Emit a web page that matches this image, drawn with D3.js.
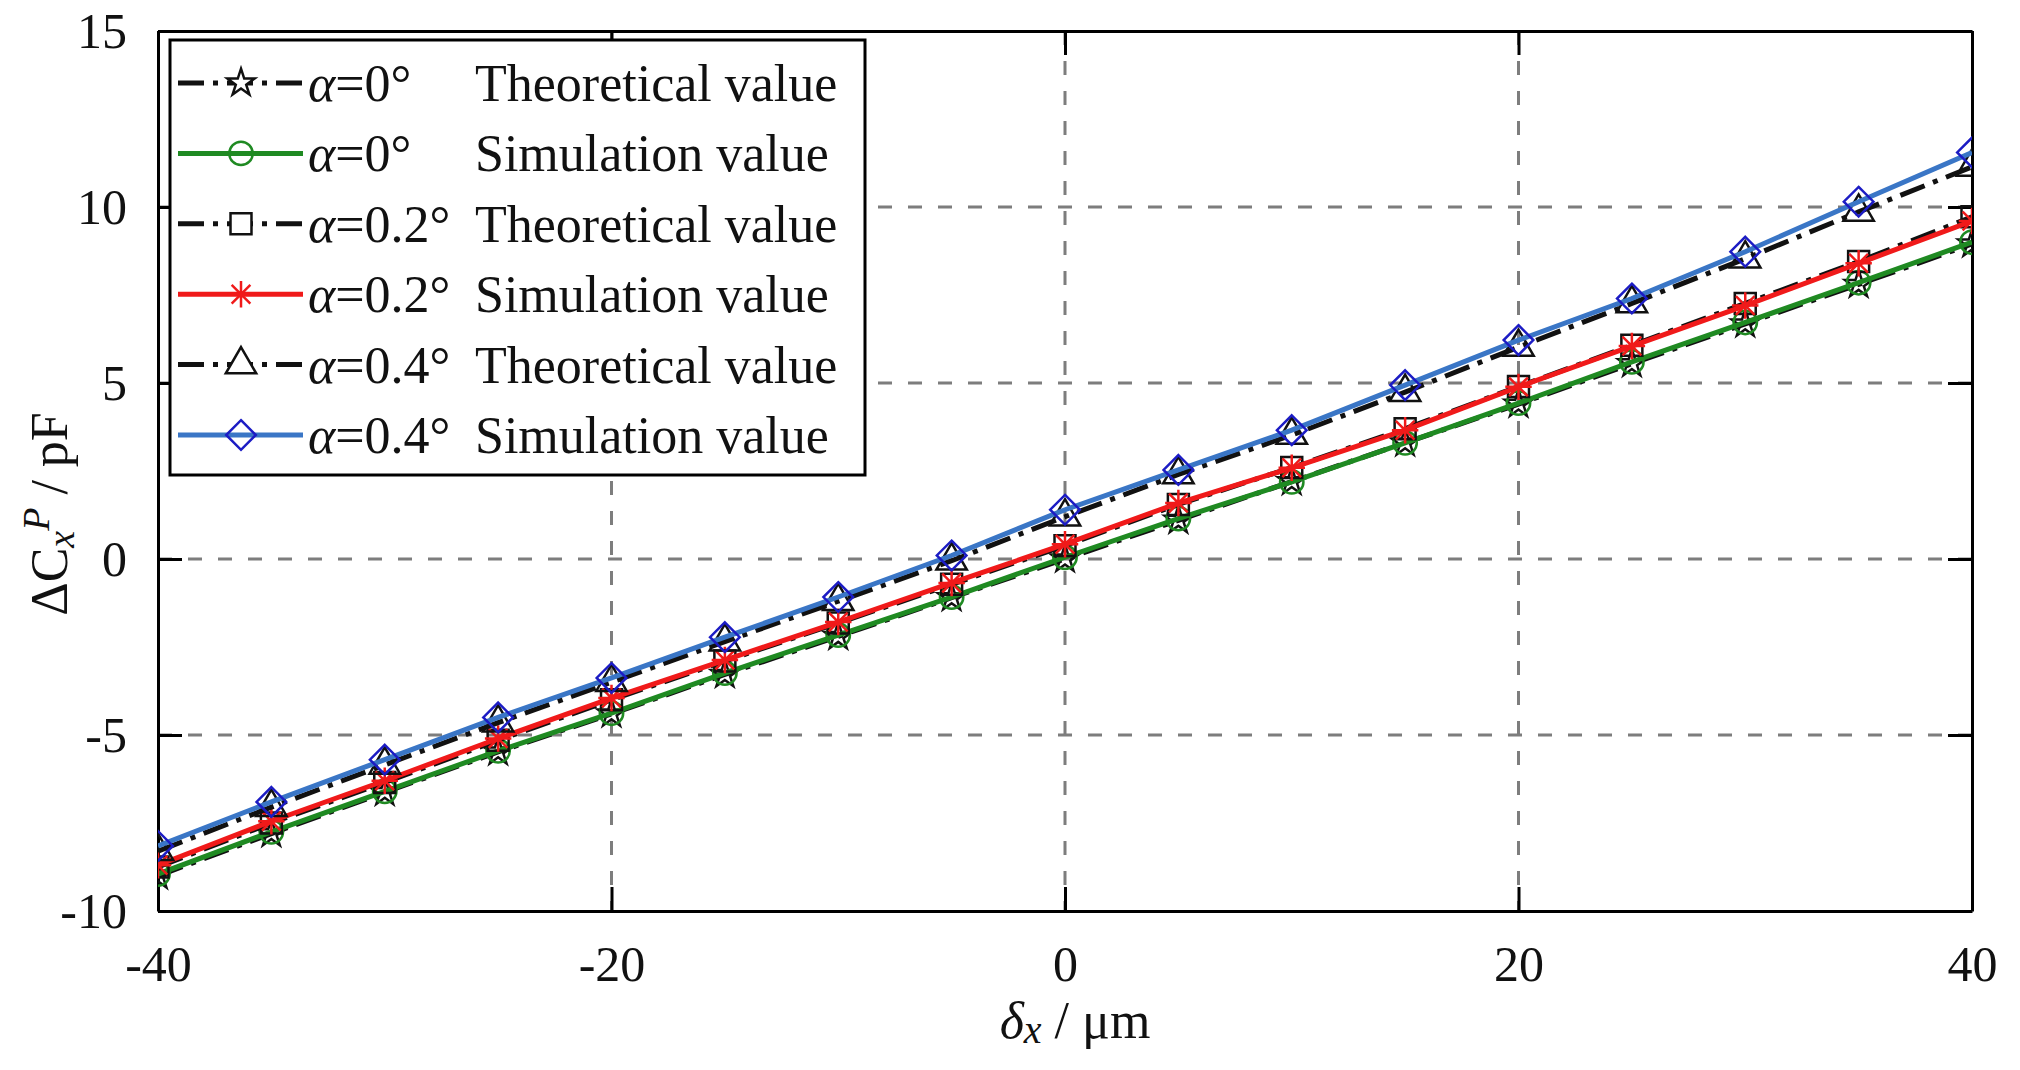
<!DOCTYPE html>
<html lang="en">
<head>
  <meta charset="UTF-8">
  <title>capacitance change vs displacement</title>
  <style>
    body {
      margin: 0;
      background-color: #fff;
    }

    svg text {
      font-family: 'Liberation Serif', 'Times New Roman', serif;
      fill: #111;
    }

    .grid line {
      stroke: #7d7d7d;
      stroke-width: 3;
      stroke-dasharray: 14,16;
    }

    .axis path,
    .axis line {
      stroke: #000;
      stroke-width: 3;
    }

    .axis text {
      font-size: 50px;
    }

    .legend-box {
      fill: #fff;
      stroke: #000;
      stroke-width: 3;
    }

    .legend-label {
      font-size: 52px;
    }
  </style>
</head>
<body>
  <script src="https://d3js.org/d3.v7.min.js"></script>
  <script>
    // displacement in um
    var xValues = [-40, -35, -30, -25, -20, -15, -10, -5, 0, 5, 10, 15, 20, 25, 30, 35, 40];

    // delta C in pF
    var theo00 = [-9.0, -7.8, -6.63, -5.48, -4.4, -3.28, -2.2, -1.1, 0.0, 1.1, 2.2, 3.3, 4.4, 5.55, 6.68, 7.8, 8.95];
    var sim00 = [-8.95, -7.75, -6.6, -5.45, -4.38, -3.24, -2.16, -1.08, 0.05, 1.15, 2.19, 3.3, 4.43, 5.6, 6.72, 7.85, 9.0];
    var theo02 = [-8.75, -7.5, -6.35, -5.15, -4.0, -2.9, -1.82, -0.72, 0.38, 1.55, 2.6, 3.7, 4.9, 6.07, 7.26, 8.45, 9.72];
    var sim02 = [-8.7, -7.45, -6.3, -5.1, -3.95, -2.87, -1.79, -0.68, 0.42, 1.59, 2.59, 3.66, 4.89, 6.05, 7.2, 8.4, 9.6];
    var theo04 = [-8.3, -7.05, -5.85, -4.65, -3.5, -2.35, -1.2, -0.05, 1.2, 2.4, 3.52, 4.74, 6.02, 7.26, 8.53, 9.86, 11.14];
    var sim04 = [-8.15, -6.9, -5.7, -4.5, -3.38, -2.22, -1.08, 0.1, 1.4, 2.53, 3.66, 4.94, 6.22, 7.4, 8.73, 10.15, 11.55];

    var xTicks = [-40, -20, 0, 20, 40];
    var yTicks = [-10, -5, 0, 5, 10, 15];
    var alphaLabels = ['0°', '0°', '0.2°', '0.2°', '0.4°', '0.4°'];
    var kindLabels = ['Theoretical value', 'Simulation value', 'Theoretical value',
                      'Simulation value', 'Theoretical value', 'Simulation value'];

    var width = 2020,
        height = 1070;

    // MATLAB style asterisk: a plus and a cross
    var symbolStarBurst = {
      draw: function(ctx, size) {
        var r = Math.sqrt(size) / 2, d = r * 0.7071;
        ctx.moveTo(0, -r); ctx.lineTo(0, r);
        ctx.moveTo(-r, 0); ctx.lineTo(r, 0);
        ctx.moveTo(-d, -d); ctx.lineTo(d, d);
        ctx.moveTo(-d, d); ctx.lineTo(d, -d);
      }
    };

    var series = [
      { values: theo00, color: '#111', marker: '#111', dash: '26,9,5,9', symbol: d3.symbolStar, size: 230 },
      { values: sim00, color: '#1f8a22', marker: '#1f8a22', dash: null, symbol: d3.symbolCircle, size: 430 },
      { values: theo02, color: '#111', marker: '#111', dash: '26,9,5,9', symbol: d3.symbolSquare, size: 440 },
      { values: sim02, color: '#f01a1a', marker: '#f01a1a', dash: null, symbol: symbolStarBurst, size: 700 },
      { values: theo04, color: '#111', marker: '#111', dash: '26,9,5,9', symbol: d3.symbolTriangle, size: 400 },
      { values: sim04, color: '#3a76c6', marker: '#1c1cc4', dash: null, symbol: d3.symbolDiamond2, size: 560 }
    ];

    var svg = d3.select('body').append('svg')
      .attr('width', width)
      .attr('height', height);

    var x = d3.scaleLinear().domain([-40, 40]).range([158, 1972]);
    var y = d3.scaleLinear().domain([-10, 15]).range([911, 31]);

    svg.append('defs').append('clipPath')
      .attr('id', 'plot-clip')
      .append('rect')
      .attr('x', x(-40)).attr('y', y(15))
      .attr('width', x(40) - x(-40))
      .attr('height', y(-10) - y(15));

    // dashed grid
    var grid = svg.append('g').attr('class', 'grid');
    grid.selectAll('.vgrid')
      .data(xTicks.slice(1, -1))
      .enter().append('line')
      .attr('x1', function(d) { return x(d); })
      .attr('x2', function(d) { return x(d); })
      .attr('y1', y(15))
      .attr('y2', y(-10));
    grid.selectAll('.hgrid')
      .data(yTicks.slice(1, -1))
      .enter().append('line')
      .attr('y1', function(d) { return y(d); })
      .attr('y2', function(d) { return y(d); })
      .attr('x1', x(-40))
      .attr('x2', x(40));

    // box axes, ticks pointing inwards
    var plainFormat = function(d) { return d < 0 ? '-' + Math.abs(d) : String(d); };

    svg.append('g').attr('class', 'axis')
      .attr('transform', 'translate(0,' + y(-10) + ')')
      .call(d3.axisBottom(x).tickValues(xTicks).tickSize(-24).tickSizeOuter(0)
        .tickPadding(34).tickFormat(plainFormat));
    svg.append('g').attr('class', 'axis')
      .attr('transform', 'translate(' + x(-40) + ',0)')
      .call(d3.axisLeft(y).tickValues(yTicks).tickSize(-24).tickSizeOuter(0)
        .tickPadding(31).tickFormat(plainFormat));
    svg.append('g').attr('class', 'axis')
      .attr('transform', 'translate(0,' + y(15) + ')')
      .call(d3.axisTop(x).tickValues(xTicks).tickSize(-24).tickSizeOuter(0).tickFormat(''));
    svg.append('g').attr('class', 'axis')
      .attr('transform', 'translate(' + x(40) + ',0)')
      .call(d3.axisRight(y).tickValues(yTicks).tickSize(-24).tickSizeOuter(0).tickFormat(''));

    svg.selectAll('.axis .tick text').attr('fill', '#111');

    // data lines and markers
    var line = d3.line()
      .x(function(d, i) { return x(xValues[i]); })
      .y(function(d) { return y(d); });

    var plot = svg.append('g').attr('clip-path', 'url(#plot-clip)');

    series.forEach(function(s) {
      var g = plot.append('g');
      g.append('path')
        .datum(s.values)
        .attr('d', line)
        .attr('fill', 'none')
        .attr('stroke', s.color)
        .attr('stroke-width', 5)
        .attr('stroke-dasharray', s.dash);
      g.selectAll('.marker')
        .data(s.values)
        .enter().append('path')
        .attr('transform', function(d, i) {
          return 'translate(' + x(xValues[i]) + ',' + y(d) + ')';
        })
        .attr('d', d3.symbol().type(s.symbol).size(s.size))
        .attr('fill', 'none')
        .attr('stroke', s.marker)
        .attr('stroke-width', 2.5);
    });

    // legend
    var legend = svg.append('g');
    legend.append('rect')
      .attr('class', 'legend-box')
      .attr('x', 170).attr('y', 40)
      .attr('width', 695).attr('height', 435);

    series.forEach(function(s, i) {
      var cy = 83 + i * 70.4;
      var row = legend.append('g');
      row.append('line')
        .attr('x1', 178).attr('x2', 303)
        .attr('y1', cy).attr('y2', cy)
        .attr('stroke', s.color)
        .attr('stroke-width', 5)
        .attr('stroke-dasharray', s.dash);
      row.append('path')
        .attr('transform', 'translate(241,' + cy + ')')
        .attr('d', d3.symbol().type(s.symbol).size(s.size))
        .attr('fill', s.dash ? '#fff' : 'none')
        .attr('stroke', s.marker)
        .attr('stroke-width', 2.5);
      var t = row.append('text')
        .attr('class', 'legend-label')
        .attr('x', 308)
        .attr('y', cy + 18);
      t.append('tspan').style('font-style', 'italic').text('α');
      t.append('tspan').text('=' + alphaLabels[i]);
      row.append('text')
        .attr('class', 'legend-label')
        .attr('x', 475)
        .attr('y', cy + 18)
        .text(kindLabels[i]);
    });

    // axis titles
    var xl = svg.append('text')
      .attr('x', 1075)
      .attr('y', 1038)
      .attr('text-anchor', 'middle')
      .style('font-size', '52px');
    xl.append('tspan').style('font-style', 'italic').text('δ');
    xl.append('tspan').style('font-style', 'italic').style('font-size', '40px').attr('dy', 5).text('x');
    xl.append('tspan').attr('dy', -5).text(' / μm');

    var yl = svg.append('text')
      .attr('transform', 'translate(67,514) rotate(-90)')
      .attr('text-anchor', 'middle')
      .style('font-size', '52px');
    yl.append('tspan').text('ΔC');
    yl.append('tspan').style('font-style', 'italic').style('font-size', '38px').attr('dy', 7).text('x');
    yl.append('tspan').style('font-style', 'italic').style('font-size', '38px').attr('dy', -25).text('P');
    yl.append('tspan').attr('dy', 18).text(' / pF');
  </script>
</body>
</html>
